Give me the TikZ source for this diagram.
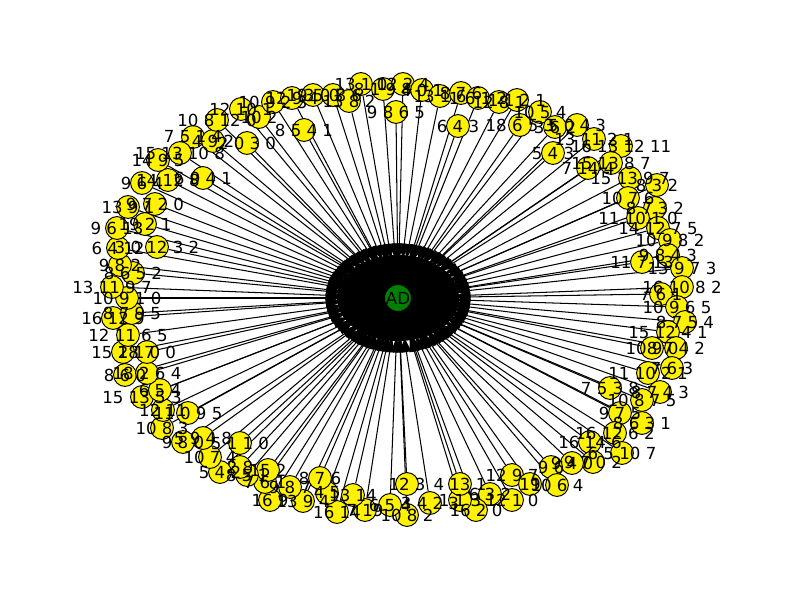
\documentclass[tikz,border=0pt]{standalone}
\usepackage{fontspec}
\setmainfont{DejaVu Sans}
\usetikzlibrary{shapes.geometric,arrows.meta}
\pgfdeclarelayer{background}
\pgfdeclarelayer{front}
\pgfsetlayers{background,main,front}
\definecolor{mplgreen}{RGB}{0,128,0}
\def\nodelist{193/137/{7 5 1 4},213/141/{4 9 2},247/143/{2 0 3 0},217/120/{10 8 12 0},241/109/{12 10 1},259/117/{10 2},273/102/{10 9 2 3},292/98/{12 9 4},304/130/{8 5 4 1},313/95/{19 5 0},333/95/{3 0 8 6},349/101/{13 8 2},361/84/{13 1 0},383/89/{8 1 9 8},396/112/{9 8 6 5},403/84/{12 2 4},422/90/{4 0 1},440/96/{13 1 6},458/126/{6 4 3},461/93/{8 7 6},478/98/{1 6 1 2},499/102/{12 8 1},517/100/{1 1 2 1},520/125/{18 6 5 3},540/112/{10 5 4},555/127/{3 6 2},577/125/{5 0 4 3},553/153/{5 4 3},594/139/{13 11 2 1},621/146/{16 13 12 11},588/168/{7 14 4},611/163/{15 13 8 7},630/178/{15 13 9 7},657/185/{8 3 2},628/198/{10 7 6},655/208/{8 7 3 2},638/218/{11 10 1 0},658/228/{14 12 7 5},670/240/{10 9 8 2},668/255/{9 8 4 3},642/262/{11 7 13},682/268/{13 9 7 3},682/287/{16 10 8 2},661/294/{7 6 1},677/307/{10 9 6 5},685/322/{8 7 5 4},668/332/{15 12 4 1},652/348/{10 9 0},676/348/{8 7 4 2},648/373/{11 10 2 1},672/368/{7 6 3},610/388/{7 5 3 8},660/392/{8 7 4 3},642/400/{10 8 7 5},620/413/{9 7 5},642/423/{8 6 3 1},615/433/{16 12 6 2},590/442/{16 14 6},622/453/{6 5 10 7},593/462/{9 7 0 2},572/463/{9 4 0},551/467/{9 6},557/485/{10 6 4},512/475/{12 9 7},530/484/{19},512/500/{12 1 0},490/494/{6 3 2},476/510/{16 2 0},460/500/{1 1 3},460/484/{4 13 1},430/503/{3 4 2 3},407/515/{10 8 2},407/484/{12 3},390/505/{6 5 4},365/510/{7 19},353/495/{13 14},337/512/{16 14},327/493/{4 5},303/501/{13 9 4},320/478/{8 7 6},290/487/{9 8 7},270/500/{16 9},265/482/{7 6 1},268/470/{15 2},247/475/{8 5 1},240/467/{2 8},220/472/{5 4 2},210/457/{10 7 4},240/443/{5 1 1 0},203/438/{5 9 4 8},183/442/{9 8 0},162/428/{10 8 3},188/413/{11 0 9 5},163/410/{12 11},142/397/{15 13 5 3},160/390/{6 5 4},125/375/{8 6 0},147/373/{18 2 6 4},123/352/{15 18 7},147/352/{2 1 0 0},128/335/{12 11 6 5},113/318/{16 12 9},132/313/{8 7 9 5},127/298/{10 9 1 0},112/287/{13 11 9 7},133/273/{8 6 5 2},120/265/{9 8 2},118/248/{6 4 12},157/247/{3 0 12 3 2},117/228/{9 6 13},145/224/{19 2 1},128/207/{13 9 1},155/204/{9 7 2 0},142/183/{9 6 4},168/180/{14 12 8},203/178/{6 9 4 1},158/160/{14 9 5},180/153/{15 13 10 8}}
\begin{document}
\begin{tikzpicture}[x=0.01in,y=-0.01in,
  ynode/.style={circle,draw=black,line width=0.7pt,fill=yellow,minimum size=16.5pt,inner sep=0pt},
  cnode/.style={circle,draw=black,line width=0.7pt,fill=mplgreen,minimum size=16.5pt,inner sep=0pt,font=\fontsize{12pt}{14pt}\selectfont},
  lbl/.style={inner sep=0pt,font=\fontsize{12pt}{14pt}\selectfont},
  blobshape/.style={ellipse,fill=black,minimum width=1.22in,minimum height=0.86in,inner sep=0pt},
  edge/.style={draw=black,line width=0.75pt,shorten >=-3pt,-{Triangle[length=11pt,width=7pt]}}]
\useasboundingbox (0,0) rectangle (800,600);
\node[blobshape] (blob) at (398,298) {};
\foreach \x/\y/\l [count=\i] in \nodelist {
  \node[ynode] (n\i) at (\x,\y) {};
  \begin{pgfonlayer}{background}
    \draw[edge] (n\i) -- (blob);
  \end{pgfonlayer}
}
\node[cnode] (AD) at (398,298) {AD};
\begin{pgfonlayer}{front}
\foreach \x/\y/\l [count=\i] in \nodelist {
  \node[lbl] (l\i) at (n\i) {\l};
}
\end{pgfonlayer}
\end{tikzpicture}
\end{document}
